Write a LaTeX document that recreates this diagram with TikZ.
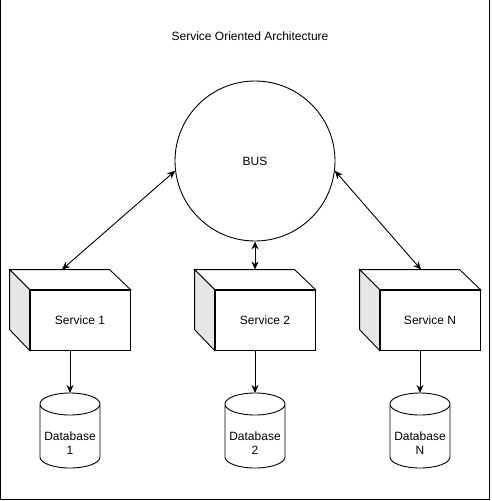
\documentclass[tikz,border=0pt]{standalone}
\usepackage{fontspec}
\setmainfont{Liberation Sans}
\usetikzlibrary{arrows.meta,calc}
\definecolor{sidegrey}{HTML}{E6E6E6}

\begin{document}
\begin{tikzpicture}[x=1pt,y=-1pt,line width=0.9pt,font=\fontsize{12}{14}\selectfont,
                    >={Stealth[length=8pt,width=7pt]}]
            \useasboundingbox (0,0) rectangle (491,501);
            \draw (0.5,-5) rectangle (489.8,499.8);

            \tikzset{Service/.style={draw,fill=white,minimum width=100,minimum height=60,inner sep=0}};
            \tikzset{Base/.style={align=center,inner sep=0}};

            \node (title) at (250,36) {Service Oriented Architecture};
            \node[draw,circle,minimum size=160,inner sep=0] (bus) at (255,161) {BUS};

            % services, front face is the node
            \node[Service] (s1) at (80,320) {Service 1};
            \node[Service] (s2) at (265,320) {Service 2};
            \node[Service] (sN) at (430,320) {Service N};

            \draw[fill=white] (s1.north west) -- ++(-20,-20) -- ++(100,0) -- (s1.north east) -- cycle;
            \draw[fill=sidegrey] (s1.north west) -- ++(-20,-20) -- ++(0,60) -- (s1.south west) -- cycle;
            \draw[fill=white] (s2.north west) -- ++(-20,-20) -- ++(100,0) -- (s2.north east) -- cycle;
            \draw[fill=sidegrey] (s2.north west) -- ++(-20,-20) -- ++(0,60) -- (s2.south west) -- cycle;
            \draw[fill=white] (sN.north west) -- ++(-20,-20) -- ++(100,0) -- (sN.north east) -- cycle;
            \draw[fill=sidegrey] (sN.north west) -- ++(-20,-20) -- ++(0,60) -- (sN.south west) -- cycle;

            % databases
            \node[Base] (db1) at (70,443) {Database\\1};
            \node[Base] (db2) at (255,443) {Database\\2};
            \node[Base] (dbN) at (420,443) {Database\\N};

            \draw (db1) ++(-30,-39) -- ++(0,53) arc[start angle=180,end angle=360,x radius=30pt,y radius=11pt]
                  -- ++(0,-53) arc[start angle=0,end angle=180,x radius=30pt,y radius=11pt]
                  arc[start angle=180,end angle=360,x radius=30pt,y radius=11pt];
            \draw (db2) ++(-30,-39) -- ++(0,53) arc[start angle=180,end angle=360,x radius=30pt,y radius=11pt]
                  -- ++(0,-53) arc[start angle=0,end angle=180,x radius=30pt,y radius=11pt]
                  arc[start angle=180,end angle=360,x radius=30pt,y radius=11pt];
            \draw (dbN) ++(-30,-39) -- ++(0,53) arc[start angle=180,end angle=360,x radius=30pt,y radius=11pt]
                  -- ++(0,-53) arc[start angle=0,end angle=180,x radius=30pt,y radius=11pt]
                  arc[start angle=180,end angle=360,x radius=30pt,y radius=11pt];

            \coordinate (s1top) at ($(s1.north)+(-18,-20)$);
            \coordinate (s2top) at ($(s2.north)+(-10,-20)$);
            \coordinate (sNtop) at ($(sN.north)+(-9,-20)$);
            \coordinate (db1top) at ($(db1)+(0,-50)$);
            \coordinate (db2top) at ($(db2)+(0,-50)$);
            \coordinate (dbNtop) at ($(dbN)+(0,-50)$);

            \draw[<->] (bus.187) -- (s1top);
            \draw[<->] (bus.south) -- (s2top);
            \draw[<->] (bus.353) -- (sNtop);

            \draw[->] (s1.south -| db1) -- (db1top);
            \draw[->] (s2.south -| db2) -- (db2top);
            \draw[->] (sN.south -| dbN) -- (dbNtop);
\end{tikzpicture}
\end{document}
